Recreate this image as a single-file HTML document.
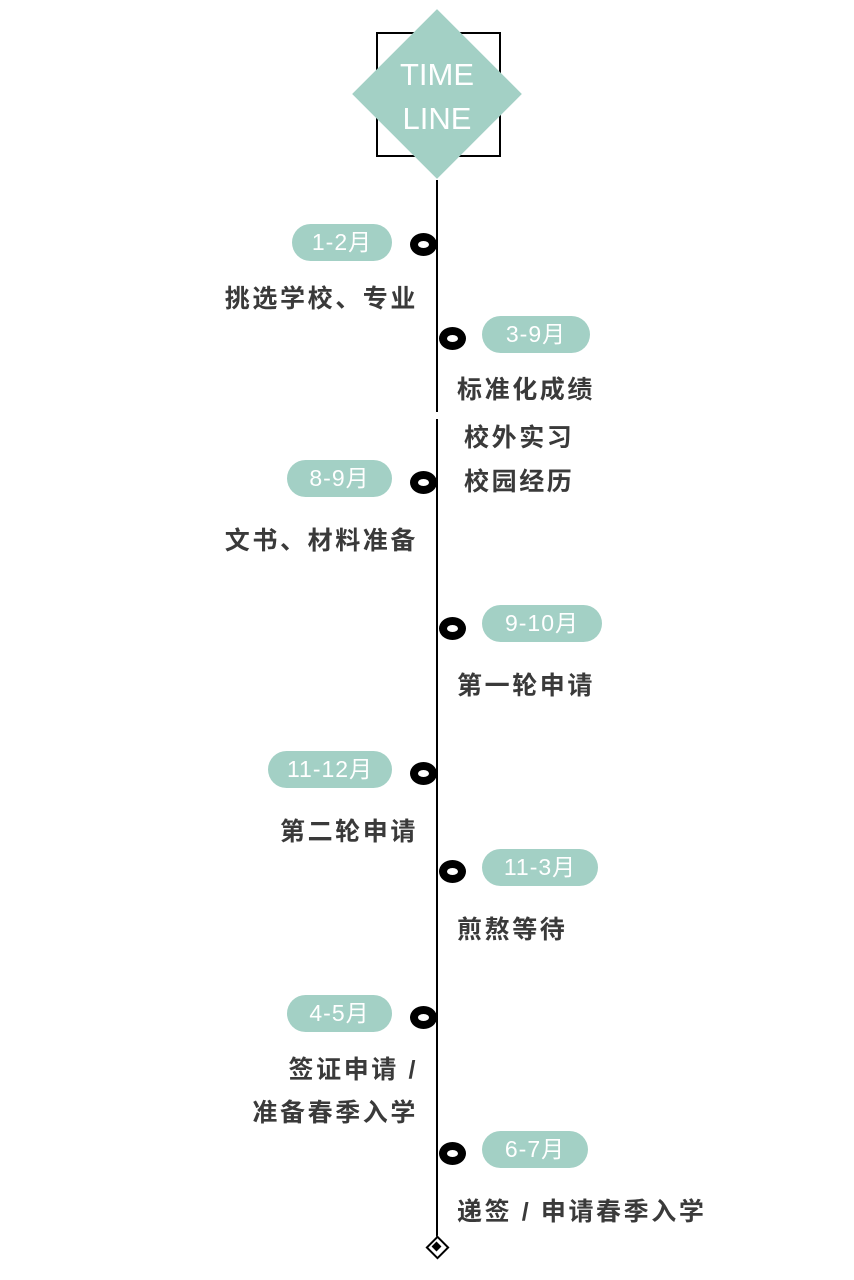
<!DOCTYPE html>
<html><head><meta charset="utf-8"><style>
body{margin:0;width:854px;height:1280px;background:#fff;position:relative;overflow:hidden;font-family:"Liberation Sans","Noto Sans CJK SC",sans-serif;}
.a{position:absolute}
.line{position:absolute;left:435.5px;width:2px;background:#000}
.pill{position:absolute;height:37px;line-height:37px;border-radius:19px;background:#a3d0c5;color:#fff;font-size:23px;text-align:center;letter-spacing:1px}
.dot{position:absolute;width:11px;height:7px;border-style:solid;border-color:#000;border-width:8px 8px;border-radius:50%}
.t{position:absolute;font-size:25px;font-weight:bold;color:#3a3a3a;letter-spacing:2.6px;line-height:30px;white-space:nowrap}
.l{text-align:right;right:436px}
</style></head><body>
<div class="a" style="left:376px;top:32px;width:121px;height:121px;border:2px solid #000"></div>
<div class="a" style="left:377px;top:34px;width:120px;height:120px;background:#a3d0c5;transform:rotate(45deg)"></div>
<div class="a" style="left:377px;top:53px;width:120px;text-align:center;color:#fff;font-size:31px;line-height:44px">TIME<br>LINE</div>
<div class="line" style="top:180px;height:232px"></div>
<div class="line" style="top:419px;height:820px"></div>
<div class="a" style="left:429px;top:1239px;width:13px;height:13px;border:2px solid #000;background:#fff;transform:rotate(45deg)"></div>
<div class="a" style="left:433px;top:1243px;width:7px;height:7px;background:#000;transform:rotate(45deg)"></div>

<div class="pill" style="left:292px;top:224px;width:100px">1-2月</div>
<div class="dot" style="left:410px;top:233px"></div>
<div class="t l" style="top:284px">挑选学校、专业</div>

<div class="pill" style="left:482px;top:316px;width:108px">3-9月</div>
<div class="dot" style="left:439px;top:327px"></div>
<div class="t" style="left:457px;top:375px">标准化成绩</div>
<div class="t" style="left:464px;top:423px">校外实习</div>
<div class="t" style="left:464px;top:467px">校园经历</div>

<div class="pill" style="left:287px;top:460px;width:105px">8-9月</div>
<div class="dot" style="left:410px;top:471px"></div>
<div class="t l" style="top:526px">文书、材料准备</div>

<div class="pill" style="left:482px;top:605px;width:120px">9-10月</div>
<div class="dot" style="left:439px;top:617px"></div>
<div class="t" style="left:457px;top:671px">第一轮申请</div>

<div class="pill" style="left:268px;top:751px;width:124px">11-12月</div>
<div class="dot" style="left:410px;top:762px"></div>
<div class="t l" style="top:817px">第二轮申请</div>

<div class="pill" style="left:482px;top:849px;width:116px">11-3月</div>
<div class="dot" style="left:439px;top:860px"></div>
<div class="t" style="left:457px;top:915px">煎熬等待</div>

<div class="pill" style="left:287px;top:995px;width:105px">4-5月</div>
<div class="dot" style="left:410px;top:1006px"></div>
<div class="t l" style="top:1055px">签证申请 /</div>
<div class="t l" style="top:1098px">准备春季入学</div>

<div class="pill" style="left:482px;top:1131px;width:106px">6-7月</div>
<div class="dot" style="left:439px;top:1142px"></div>
<div class="t" style="left:457px;top:1197px">递签 / 申请春季入学</div>
</body></html>
